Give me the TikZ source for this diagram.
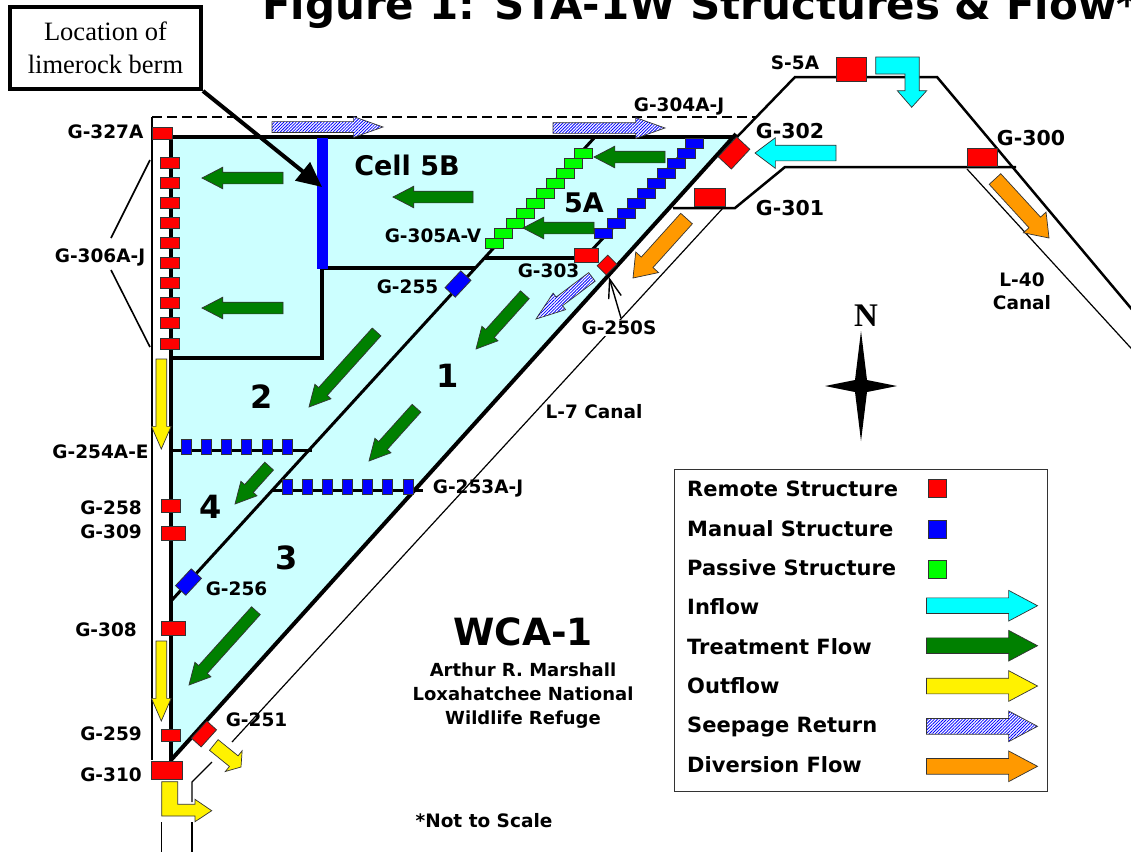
\documentclass[tikz,border=0pt]{standalone}
\usepackage{fontspec}
\setmainfont{Liberation Serif}
\newfontfamily\labelfamily{DejaVu Sans}
\usetikzlibrary{positioning,arrows.meta,shapes.arrows,patterns.meta}
\definecolor{cellcyan}{HTML}{CCFFFF}
\definecolor{flowgreen}{HTML}{008000}
\definecolor{passgreen}{HTML}{00FF00}
\definecolor{inflowcyan}{HTML}{00FFFF}
\definecolor{diverorange}{HTML}{FF9900}
\tikzset{
  stlabel/.style={font=\labelfamily\bfseries\fontsize{18.5}{23}\selectfont, inner sep=0pt, align=center},
  bigstlabel/.style={font=\labelfamily\bfseries\fontsize{20.5}{24}\selectfont, inner sep=0pt},
  cellnum/.style={font=\labelfamily\bfseries\fontsize{32}{36}\selectfont, inner sep=0pt},
  legendtext/.style={font=\labelfamily\bfseries\fontsize{21}{24}\selectfont, inner sep=0pt, anchor=base west},
  structbox/.style={draw=black!80, line width=0.8pt, inner sep=0pt, outer sep=0pt, minimum width=19pt, minimum height=11pt},
  remotebox/.style={structbox, fill=red},
  manualbox/.style={structbox, fill=blue},
  passivebox/.style={structbox, fill=passgreen},
  flowbase/.style={single arrow, draw=black!80, line width=0.7pt, inner xsep=0pt, outer sep=0pt, anchor=tip},
  treatarrow/.style={flowbase, fill=flowgreen, inner ysep=5.5pt, minimum width=21pt, single arrow head extend=5pt, single arrow tip angle=55},
  inflowarrow/.style={flowbase, fill=inflowcyan, inner ysep=7.5pt, minimum width=30pt, single arrow head extend=7.5pt, single arrow tip angle=74},
  outarrow/.style={flowbase, fill=yellow, inner ysep=5pt, minimum width=19pt, single arrow head extend=4.5pt, single arrow tip angle=47},
  seeparrow/.style={flowbase, preaction={fill=white}, pattern={Lines[angle=45,distance=2.2pt,line width=0.8pt]}, pattern color=blue, inner ysep=5pt, minimum width=20pt, single arrow head extend=5pt, single arrow tip angle=39},
  diverarrow/.style={flowbase, fill=diverorange, inner ysep=7.5pt, minimum width=30pt, single arrow head extend=7.5pt, single arrow tip angle=72},
  legendarrow/.style={inner ysep=7.5pt, minimum width=30pt, minimum height=111pt, single arrow head extend=7.5pt, single arrow tip angle=56},
  heavyline/.style={line width=4pt},
  midline/.style={line width=3pt},
  outerline/.style={line width=2.5pt},
  thinline/.style={line width=1.2pt}
}
\begin{document}
\begin{tikzpicture}[x=1pt,y=-1pt]
  \clip (0,0) rectangle (1131,854);
  \fill[white] (0,0) rectangle (1131,854);
  \fill[cellcyan] (172,137) -- (733,137) -- (172,760) -- cycle;

  \node[stlabel, anchor=base west, font=\labelfamily\bfseries\fontsize{42}{46}\selectfont] (title) at (262,19) {Figure 1: STA-1W Structures \& Flow*};

  \draw[thinline] (723,208) -- (232,742);
  \draw[thinline] (212,762) -- (192,782) -- (192,802);
  \draw[thinline] (192,822) -- (192,852);
  \draw[thinline] (161.5,822) -- (161.5,852);
  \draw[thinline] (967,169) -- (1140,358);
  \draw[outerline] (152,760) -- (152,117);
  \draw[line width=2pt, dash pattern=on 10pt off 5pt] (152,117) -- (756,117);
  \draw[outerline] (737,137) -- (795,77) -- (937,77) -- (1140,319);
  \draw[outerline] (673,208) -- (735,208) -- (785,167) -- (1016,167);
  \draw[midline] (172,600) -- (595,137);
  \draw[midline] (695,140) -- (590,252);
  \draw[heavyline] (322,268) -- (322,358) -- (172,358);
  \draw[heavyline] (322,268) -- (475,268);
  \draw[heavyline] (485,258) -- (574,258);
  \draw[midline] (172,450) -- (312,450);
  \draw[midline] (273,490) -- (423,490);
  \draw[heavyline] (172,137) -- (737,137);
  \draw[heavyline] (171,137) -- (171,762);
  \draw[heavyline] (171,760) -- (736,134);
  \draw[blue, line width=11pt] (322.5,138) -- (322.5,269);

  \foreach \i/\y in {1/163,2/183,3/203,4/223,5/243,6/263,7/283,8/303,9/323,10/344}
    \node[remotebox] (g306\i) at (170,\y) {};
  \foreach \i/\x/\y in {1/583/153,2/573/163,3/565/173,4/555/183,5/545/193,6/535/203,7/525/213,8/515/223,9/503/233,10/494/243}
    \node[passivebox, minimum width=18pt, minimum height=10pt] (g305\i) at (\x,\y) {};
  \foreach \i/\x/\y in {1/694/143,2/686/153,3/676/163,4/666/173,5/656/183,6/646/193,7/636/203,8/626/213,9/616/223,10/603/233}
    \node[manualbox, minimum width=18pt, minimum height=10pt] (g304\i) at (\x,\y) {};
  \foreach \i/\x in {1/186,2/206,3/226,4/246,5/267,6/287}
    \node[manualbox, minimum width=10pt, minimum height=15pt] (g254\i) at (\x,447) {};
  \foreach \i/\x in {1/287,2/307,3/327,4/347,5/367,6/387,7/408}
    \node[manualbox, minimum width=10pt, minimum height=15pt] (g253\i) at (\x,486.5) {};

  \node[remotebox, minimum width=20pt, minimum height=12pt] (g327) at (162,133) {};
  \node[remotebox, minimum height=13pt] (g258) at (170.5,505.5) {};
  \node[remotebox, minimum width=24pt, minimum height=14pt] (g309) at (173,533) {};
  \node[remotebox, minimum width=24pt, minimum height=14pt] (g308) at (173,628) {};
  \node[remotebox, minimum height=12pt] (g259) at (170.5,735) {};
  \node[remotebox, minimum width=31pt, minimum height=18pt] (g310) at (166.5,770) {};
  \node[remotebox, minimum width=23pt, minimum height=13pt, rotate=48] (g251) at (204,734) {};
  \node[manualbox, minimum width=23pt, minimum height=14pt, rotate=47] (g255) at (458,284) {};
  \node[manualbox, minimum width=23pt, minimum height=14pt, rotate=47] (g256) at (188.5,582) {};
  \node[remotebox, minimum width=27pt, minimum height=18pt, rotate=47] (g302) at (734,153) {};
  \node[remotebox, minimum width=15pt, minimum height=13pt, rotate=45] (g250) at (607,265) {};
  \node[remotebox, minimum width=24pt, minimum height=14pt] (g303) at (586,255) {};
  \node[remotebox, minimum width=31pt, minimum height=18pt] (g301) at (710,197) {};
  \node[remotebox, minimum width=30pt, minimum height=24pt] (s5a) at (851,69) {};
  \node[remotebox, minimum width=30pt, minimum height=18pt] (g300) at (982,157) {};

  \node[treatarrow, minimum height=81pt, rotate=180] (t1) at (202,178) {};
  \node[treatarrow, minimum height=81pt, rotate=180] (t2) at (202,308) {};
  \node[treatarrow, minimum height=80pt, rotate=180] (t3) at (393,197) {};
  \node[treatarrow, minimum height=71pt, rotate=180] (t4) at (594,157) {};
  \node[treatarrow, minimum height=71pt, rotate=180] (t5) at (523,228) {};
  \node[treatarrow, minimum height=73pt, rotate=228] (t6) at (476,349) {};
  \node[treatarrow, minimum height=101pt, rotate=228] (t7) at (309,407) {};
  \node[treatarrow, minimum height=71pt, rotate=228] (t8) at (369,461) {};
  \node[treatarrow, minimum height=51pt, rotate=228] (t9) at (235,504) {};
  \node[treatarrow, minimum height=100pt, rotate=228] (t10) at (189,685) {};

  \node[seeparrow, minimum height=111pt] (s1) at (383,127) {};
  \node[seeparrow, minimum height=112pt] (s2) at (665,128) {};
  \node[seeparrow, minimum height=70pt, rotate=217] (s3) at (536,319) {};

  \node[inflowarrow, minimum height=81pt, rotate=180] (i1) at (755,153) {};
  \draw[draw=black!80, line width=0.7pt, fill=inflowcyan] (875.7,57) -- (919.3,57) -- (919.3,90.7) -- (926.7,90.7) -- (911.7,107.3) -- (897.3,90.7) -- (905,90.7) -- (905,74) -- (875.7,74) -- cycle;

  \node[diverarrow, minimum height=80pt, rotate=228] (d1) at (633,278) {};
  \node[diverarrow, minimum height=80pt, rotate=-47.5] (d2) at (1049,238) {};

  \node[outarrow, minimum height=90pt, rotate=-90] (o1) at (161.3,449) {};
  \node[outarrow, minimum height=80pt, rotate=-90] (o2) at (161.3,721) {};
  \node[outarrow, inner ysep=6.5pt, minimum width=26pt, minimum height=35pt, single arrow head extend=6.5pt, single arrow tip angle=110, rotate=-39] (o3) at (241,767) {};
  \draw[draw=black!80, line width=0.7pt, fill=yellow] (161.7,781.7) -- (177.7,781.7) -- (177.7,804.3) -- (195,804.3) -- (195,799.3) -- (211.7,810.7) -- (195,821.7) -- (195,816) -- (161.7,816) -- cycle;

  \node[draw, line width=4pt, inner sep=0pt, minimum width=191pt, minimum height=82pt, align=center, font=\fontsize{26.5}{33}\selectfont] (limebox) at (105.5,48) {Location of\\limerock berm};
  \coordinate (bermtip) at (322,187);
  \draw[line width=4pt, -{Triangle[length=25pt,width=23pt]}] (limebox.south east) -- (bermtip);

  \node[stlabel] (l327) at (105.5,132) {G-327A};
  \node[stlabel] (l306) at (100,257) {G-306A-J};
  \coordinate (l306a) at (150,160);
  \coordinate (l306b) at (150,347);
  \draw[line width=1.6pt] (111,238) -- (l306a);
  \draw[line width=1.6pt] (111,270) -- (l306b);
  \node[stlabel] (l305) at (433,236) {G-305A-V};
  \node[stlabel] (l304) at (679,106) {G-304A-J};
  \node[bigstlabel] (l302) at (790,131) {G-302};
  \node[bigstlabel] (l301) at (790,208) {G-301};
  \node[bigstlabel] (l300) at (1031,138) {G-300};
  \node[stlabel] (ls5a) at (795,63) {S-5A};
  \node[stlabel] (l255) at (407.5,287) {G-255};
  \node[stlabel] (l303) at (548.5,271) {G-303};
  \node[stlabel, fill=white, inner sep=1pt] (l250) at (619,328) {G-250S};
  \coordinate (l250tip) at (609,277);
  \draw[line width=1.4pt, -{Straight Barb[length=19pt,width=13pt]}] (621,318) -- (l250tip);
  \node[stlabel] (l254) at (100.5,452) {G-254A-E};
  \node[stlabel] (l258) at (111,508) {G-258};
  \node[stlabel] (l309) at (111,532) {G-309};
  \node[stlabel] (l253) at (478,488) {G-253A-J};
  \node[stlabel] (l256) at (236.5,589) {G-256};
  \node[stlabel] (l308) at (106,630) {G-308};
  \node[stlabel] (l259) at (111,734) {G-259};
  \node[stlabel] (l310) at (111,775) {G-310};
  \node[stlabel] (l251) at (256.5,720) {G-251};
  \node[stlabel] (ll7) at (594,412) {L-7 Canal};
  \node[stlabel] (ll40) at (1022,291.5) {L-40\\Canal};

  \node[bigstlabel, font=\labelfamily\bfseries\fontsize{27}{30}\selectfont] (cell5b) at (407,165) {Cell 5B};
  \node[cellnum, font=\labelfamily\bfseries\fontsize{27}{30}\selectfont] (c5a) at (584,203) {5A};
  \node[cellnum] (c1) at (448,376) {1};
  \node[cellnum] (c2) at (262,397) {2};
  \node[cellnum] (c3) at (287,558) {3};
  \node[cellnum] (c4) at (211,507) {4};

  \node[cellnum, font=\labelfamily\bfseries\fontsize{37.5}{42}\selectfont] (wca) at (523,632) {WCA-1};
  \node[stlabel, font=\labelfamily\bfseries\fontsize{18}{24}\selectfont] (refuge) at (523,696) {Arthur R. Marshall\\Loxahatchee National\\Wildlife Refuge};
  \node[stlabel] (notscale) at (484,821) {*Not to Scale};

  \node[font=\bfseries\fontsize{33}{36}\selectfont, inner sep=0pt] (north) at (866,316) {N};
  \fill (861,331) -- (867,380) -- (897,386) -- (867,392) -- (861,441) -- (855,392) -- (825,386) -- (855,380) -- cycle;

  \node[draw=black!80, line width=1pt, minimum width=373pt, minimum height=322pt, inner sep=0pt] (legend) at (861,630.5) {};
  \node[legendtext] (tremote) at (687,496.7) {Remote Structure};
  \node[legendtext] (tmanual) at (687,536) {Manual Structure};
  \node[legendtext] (tpassive) at (687,575.7) {Passive Structure};
  \node[legendtext] (tinflow) at (687,614.7) {Inflow};
  \node[legendtext] (ttreat) at (687,654) {Treatment Flow};
  \node[legendtext] (toutflow) at (687,693.3) {Outflow};
  \node[legendtext] (tseep) at (687,732.7) {Seepage Return};
  \node[legendtext] (tdiver) at (687,772.7) {Diversion Flow};
  \node[remotebox, minimum width=18pt, minimum height=18pt] (kremote) at (937.5,488.5) {};
  \node[manualbox, minimum width=18pt, minimum height=18pt] (kmanual) at (937.5,529) {};
  \node[passivebox, minimum width=18pt, minimum height=18pt] (kpassive) at (937.5,569.5) {};
  \node[inflowarrow, legendarrow] (kinflow) at (1037.5,605.7) {};
  \node[treatarrow, legendarrow] (ktreat) at (1037.5,645.7) {};
  \node[outarrow, legendarrow] (koutflow) at (1037.5,686) {};
  \node[seeparrow, legendarrow] (kseep) at (1037.5,726.3) {};
  \node[diverarrow, legendarrow] (kdiver) at (1037.5,766.3) {};
\end{tikzpicture}
\end{document}
